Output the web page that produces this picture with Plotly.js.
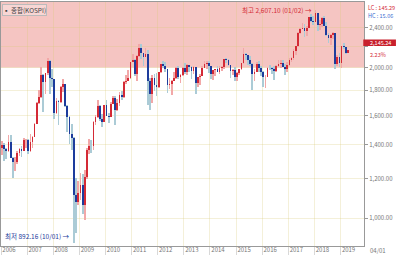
<!DOCTYPE html>
<html><head><meta charset="utf-8">
<script src="https://cdn.plot.ly/plotly-3.0.1.min.js"></script>
<style>html,body{margin:0;padding:0;background:#fff}#c{width:400px;height:255px}</style>
</head><body><div id="c"></div>
<script>
// Monthly KOSPI candles, Jan 2006 .. Apr 2019
const startYear = 2006;
const open = [
1379,1399,1371,1359,1419,1317,1295,1297,1352,1371,1364,1432,
1434,1360,1417,1453,1542,1700,1743,1933,1873,1946,2065,1907,
1897,1625,1711,1704,1825,1852,1674,1594,1474,1448,1113,1076,
1124,1162,1063,1206,1369,1395,1390,1557,1591,1673,1580,1555,
1682,1602,1594,1692,1741,1641,1698,1759,1742,1873,1882,1905,
2051,2069,1939,2106,2192,2142,2100,2133,1880,1770,1909,1847,
1826,1955,2030,2014,1982,1843,1854,1881,1905,1996,1912,1933,
1997,1961,2027,2005,1964,2001,1863,1915,1926,1997,2030,2045,
2011,1941,1980,1986,1961,1995,2002,2076,2068,2020,1964,1981,
1916,1949,1986,2041,2127,2115,2074,2030,1941,1963,2029,1992,
1961,1912,1917,1996,1994,1983,1970,2016,2035,2044,2008,1983,
2026,2068,2092,2160,2205,2347,2392,2403,2363,2394,2523,2476,
2467,2566,2427,2445,2515,2423,2326,2295,2322,2343,2030,2097,
2041,2204,2195,2141];
const high = [
1425,1410,1380,1467,1464,1322,1326,1361,1379,1390,1444,1440,
1441,1474,1459,1550,1704,1806,2004,1940,1953,2085,2072,1990,
1901,1740,1725,1835,1901,1855,1681,1596,1541,1450,1200,1187,
1228,1227,1247,1378,1436,1435,1560,1609,1723,1681,1618,1685,
1723,1625,1705,1757,1755,1730,1785,1796,1877,1934,1976,2052,
2124,2081,2115,2231,2228,2142,2187,2172,1906,1928,1942,1946,
1958,2036,2057,2049,1990,1904,1890,1961,2007,2011,1944,2002,
2042,2028,2027,2010,2018,2009,1916,1940,2016,2063,2060,2058,
2013,1980,1990,2018,2017,2010,2082,2093,2082,2023,1990,2000,
1960,1989,2041,2189,2140,2115,2106,2045,1990,2055,2065,2010,
1965,1930,2003,2022,2000,2016,2027,2068,2073,2069,2030,2047,
2088,2099,2173,2213,2355,2402,2453,2440,2425,2527,2562,2540,
2607,2573,2485,2518,2532,2471,2343,2332,2355,2344,2115,2134,
2205,2240,2196,2170];
const low = [
1338,1300,1313,1355,1320,1203,1241,1285,1329,1325,1364,1380,
1345,1356,1379,1450,1540,1690,1740,1626,1772,1930,1772,1831,
1578,1617,1537,1697,1787,1671,1488,1406,1365,892,934,1060,
1088,1018,992,1196,1343,1350,1367,1538,1587,1562,1524,1555,
1597,1552,1590,1689,1532,1638,1678,1721,1739,1852,1882,1900,
2049,1920,1882,2100,2076,2013,2097,1684,1644,1702,1793,1750,
1820,1952,1997,1956,1780,1809,1758,1879,1897,1895,1860,1927,
1944,1931,1960,1900,1942,1770,1825,1845,1925,1994,1988,1953,
1895,1886,1920,1961,1940,1970,1990,2040,2010,1902,1930,1881,
1876,1928,1973,2031,2070,2025,2010,1800,1880,1958,1960,1920,
1829,1817,1917,1978,1940,1892,1960,2005,1993,2001,1931,1960,
2014,2053,2071,2119,2200,2338,2384,2300,2311,2394,2466,2433,
2461,2363,2380,2405,2422,2307,2241,2216,2282,1985,2012,2004,
1993,2175,2124,2140];
const close = [
1399,1371,1359,1419,1317,1295,1297,1352,1371,1364,1432,1434,
1360,1417,1453,1542,1700,1743,1933,1873,1946,2065,1907,1897,
1625,1711,1704,1825,1852,1674,1594,1474,1448,1113,1076,1124,
1162,1063,1206,1369,1395,1390,1557,1591,1673,1580,1555,1682,
1602,1594,1692,1741,1641,1698,1759,1742,1873,1882,1905,2051,
2069,1939,2106,2192,2142,2100,2133,1880,1770,1909,1847,1826,
1955,2030,2014,1982,1843,1854,1881,1905,1996,1912,1933,1997,
1961,2027,2005,1964,2001,1863,1915,1926,1997,2030,2045,2011,
1941,1980,1986,1961,1995,2002,2076,2068,2020,1964,1981,1916,
1949,1986,2041,2127,2115,2074,2030,1941,1963,2029,1992,1961,
1912,1917,1996,1994,1983,1970,2016,2035,2044,2008,1983,2026,
2068,2092,2160,2205,2347,2392,2403,2363,2394,2523,2476,2467,
2566,2427,2445,2515,2423,2326,2295,2322,2343,2030,2097,2041,
2204,2195,2141,2168];
const yearLabels = ['2006','2007','2008','2009','2010','2011','2012','2013','2014','2015','2016','2017','2018','2019'];
const priceTicks = [1000,1200,1400,1600,1800,2000,2200,2400];
const priceTickText = ['1,000.00','1,200.00','1,400.00','1,600.00','1,800.00','2,000.00','','2,400.00'];
const zoneLow = 2000;
const highLabel = '최고 2,607.10 (01/02) →';
const lowLabel = '최저 892.16 (10/01) →';
const lastPrice = '2,145.24';
const lastChange = '2.23%';
const dateLabel = '04/01';

function pad(n){return (n<10?'0':'')+n;}
const dates = open.map((_, i) => {
  const y = startYear + Math.floor(i/12), m = i%12 + 1;
  return y + '-' + pad(m) + '-16';
});
const up = close.map((c,i) => c >= open[i]);
const DAY = 86400000;

const wick = {
  type:'bar', x: dates, base: low, y: high.map((h,i)=>h-low[i]),
  width: dates.map(()=>24*DAY),
  marker:{color: up.map(u=>u?'#f2a8a8':'#abcbd6'), line:{width:0}},
  hoverinfo:'skip', showlegend:false
};
const body = {
  type:'bar', x: dates, base: open.map((o,i)=>Math.min(o,close[i])),
  y: open.map((o,i)=>Math.max(Math.abs(close[i]-o),1)),
  width: dates.map(()=>24*DAY),
  marker:{color: up.map(u=>u?'#d42a36':'#1d3c9c'), line:{width:0}},
  hoverinfo:'skip', showlegend:false
};

const font = 'Noto Sans CJK KR, DejaVu Sans, sans-serif';
const layout = {
  width:400, height:255,
  margin:{l:1, r:36, t:2, b:9},
  paper_bgcolor:'#fff', plot_bgcolor:'#fff',
  barmode:'overlay', bargap:0,
  showlegend:false,
  font:{family:font, size:6.5, color:'#777'},
  xaxis:{
    type:'date', range:['2006-01-01','2019-11-25'],
    tickmode:'array', tickvals: yearLabels.map(y=>y+'-01-01'), ticktext: yearLabels,
    ticks:'outside', ticklen:9, tickcolor:'#d8d8d8', tickwidth:1,
    ticklabelshift:8, ticklabelstandoff:-11,
    tickfont:{size:6, color:'#777', family:font},
    showgrid:true, gridcolor:'rgba(215,200,120,0.28)', gridwidth:1,
    showline:true, mirror:true, linecolor:'#999', linewidth:1,
    zeroline:false, fixedrange:true
  },
  yaxis:{
    type:'log', side:'right', range:[Math.log10(879), Math.log10(2704)],
    tickmode:'array', tickvals: priceTicks, ticktext: priceTickText,
    ticks:'outside', ticklen:3, tickcolor:'#999',
    tickfont:{size:6, color:'#777', family:font},
    showgrid:true, gridcolor:'rgba(215,200,120,0.28)', gridwidth:1,
    showline:true, mirror:true, linecolor:'#999', linewidth:1,
    zeroline:false, fixedrange:true
  },
  shapes:[
    {type:'rect', layer:'below', xref:'x domain', yref:'y', x0:0, x1:1, y0:zoneLow, y1:5000,
     fillcolor:'#f5c5c2', line:{width:0}},
    {type:'rect', xref:'paper', yref:'paper', x0:0.998, x1:1.088, y0:0.82, y1:0.846,
     fillcolor:'#c8202c', line:{width:0}}
  ],
  annotations:[
    {xref:'paper', yref:'paper', x:0.003, y:0.99, xanchor:'left', yanchor:'top', showarrow:false,
     text:'▪ 종합(KOSPI)', font:{size:6.5, color:'#444', family:font},
     bgcolor:'#f8d6d4', bordercolor:'#bbb', borderwidth:1, borderpad:0},
    {xref:'x', yref:'y', x:'2017-12-22', y:Math.log10(2607), xanchor:'right', yanchor:'middle', showarrow:false,
     text: highLabel, font:{size:6.5, color:'#d42a36', family:font}},
    {xref:'x', yref:'y', x:'2008-09-24', y:Math.log10(892), xanchor:'right', yanchor:'bottom', showarrow:false,
     text: lowLabel, font:{size:6.5, color:'#1d3c9c', family:font}},
    {xref:'paper', yref:'paper', x:1.005, y:1.0, xanchor:'left', yanchor:'top', showarrow:false,
     text:'LC : 145.29', font:{size:5.5, color:'#d42a36', family:font}},
    {xref:'paper', yref:'paper', x:1.005, y:0.968, xanchor:'left', yanchor:'top', showarrow:false,
     text:'HC : 15.06', font:{size:5.5, color:'#3a6ad0', family:font}},
    {xref:'paper', yref:'paper', x:1.01, y:0.833, xanchor:'left', yanchor:'middle', showarrow:false,
     text: lastPrice, font:{size:5.5, color:'#fff', family:font}},
    {xref:'paper', yref:'paper', x:1.01, y:0.782, xanchor:'left', yanchor:'middle', showarrow:false,
     text: lastChange, font:{size:5.5, color:'#d42a36', family:font}},
    {xref:'paper', yref:'paper', x:1.01, y:-0.02, xanchor:'left', yanchor:'middle', showarrow:false,
     text: dateLabel, font:{size:6, color:'#777', family:font}}
  ]
};
Plotly.newPlot('c', [wick, body], layout, {staticPlot:true, displayModeBar:false});
</script></body></html>
